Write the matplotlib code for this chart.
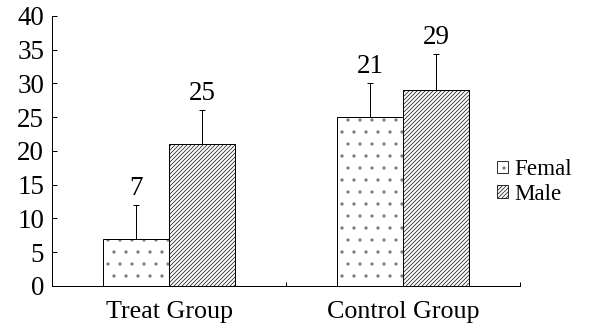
import numpy as np
import matplotlib
matplotlib.use('Agg')
import matplotlib.pyplot as plt

# dpi 72: 1 pt = 1 px
plt.rcParams['font.family'] = ['Liberation Serif', 'DejaVu Serif']
plt.rcParams['hatch.linewidth'] = 0.8

groups     = ['Treat Group', 'Control Group']
series     = ['Femal', 'Male']
heights    = {'Femal': [7, 25], 'Male': [21, 29]}
errors     = {'Femal': [5, 5], 'Male': [5, 5.3]}
bar_labels = {'Femal': ['7', '21'], 'Male': ['25', '29']}
yticks     = [0, 5, 10, 15, 20, 25, 30, 35, 40]

hatches = {'Femal': '.', 'Male': '//////'}
hcolors = {'Femal': '#7a7a7a', 'Male': '#2a2a2a'}

DPI = 72
fig = plt.figure(figsize=(604 / DPI, 329 / DPI), dpi=DPI)
ax = fig.add_axes([0.0861, 0.1307, 0.775, 0.8207])

centers = np.arange(len(groups)) + 0.5
w = 0.283
for i, s in enumerate(series):
    xs = centers + (i - 0.5) * w
    bars = ax.bar(xs, heights[s], w, color='white', edgecolor='black',
                  linewidth=1.0, hatch=hatches[s], label=s, zorder=2)
    for b in bars:
        b._hatch_color = matplotlib.colors.to_rgba(hcolors[s])
    ax.errorbar(xs, heights[s], yerr=[np.zeros(len(xs)), errors[s]],
                fmt='none', ecolor='black', elinewidth=1.0, capsize=3,
                capthick=1.0, zorder=3)
    for x, h, e, t in zip(xs, heights[s], errors[s], bar_labels[s]):
        ax.text(x, h + e + 0.6, t, ha='center', va='bottom', fontsize=27)

ax.set_xlim(0, 2)
ax.set_ylim(0, 40)
ax.set_yticks(yticks)
ax.set_yticklabels([str(v) for v in yticks], fontsize=27)
ax.tick_params(axis='y', direction='in', length=5, width=1, pad=8)
ax.set_xticks([0, 1, 2])
ax.set_xticklabels(['', '', ''])
ax.tick_params(axis='x', direction='in', length=4, width=1)
for c, g in zip(centers, groups):
    ax.text(c, -2.2, g, ha='center', va='top', fontsize=26)

for sp in ['top', 'right']:
    ax.spines[sp].set_visible(False)
for sp in ['left', 'bottom']:
    ax.spines[sp].set_linewidth(1.0)

leg = ax.legend(loc='center left', bbox_to_anchor=(0.951, 0.385), frameon=False,
                fontsize=23, handlelength=0.45, handleheight=0.45,
                handletextpad=0.3, labelspacing=0.15, borderaxespad=0,
                borderpad=0)
for p in leg.get_patches():
    p.set_linewidth(0.8)

fig.savefig('out.png', dpi=DPI)
